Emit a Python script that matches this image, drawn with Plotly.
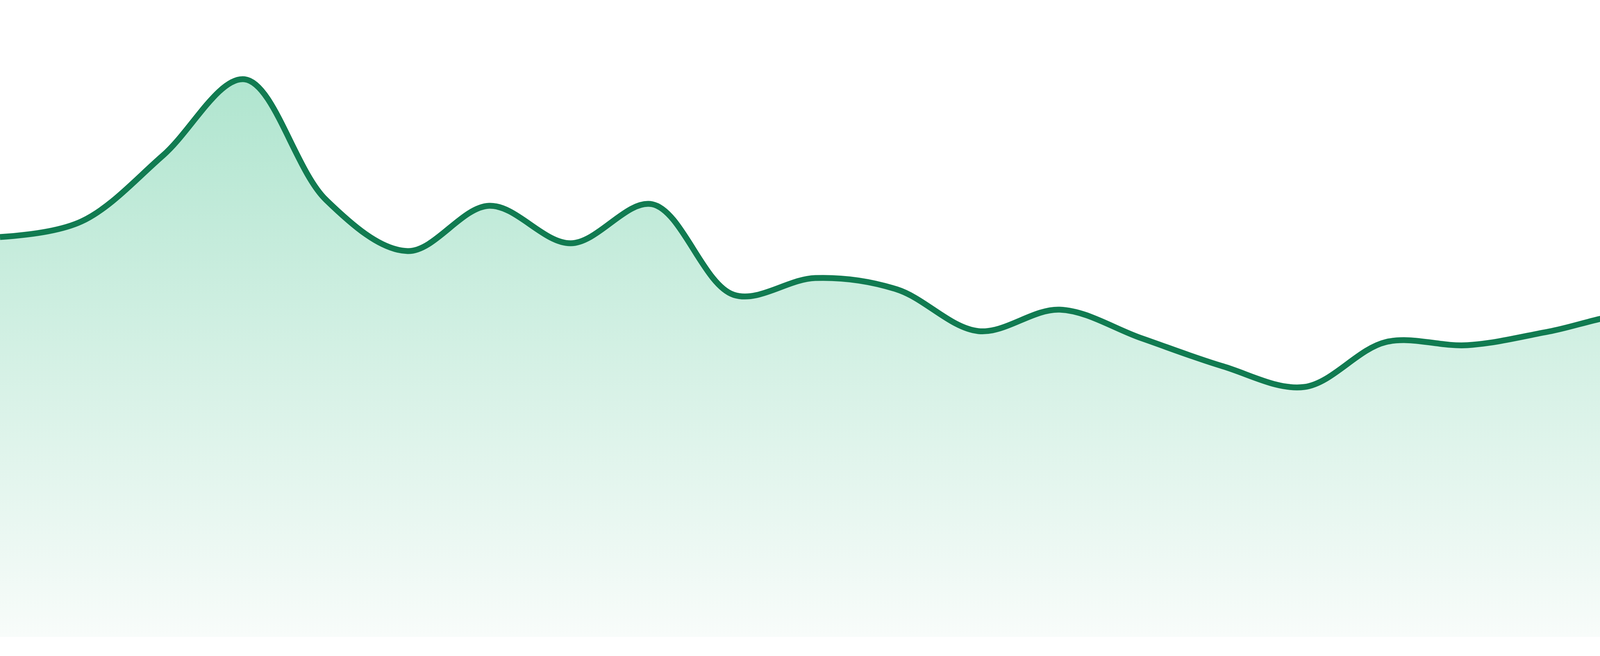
import plotly.graph_objects as go

# 24 evenly spaced samples
steps = list(range(24))
values = [102.4, 106.4, 123.3, 142.8, 111.9, 98.8, 110.4, 100.8,
          110.8, 87.6, 91.9, 89.0, 78.3, 83.8, 76.5, 69.3,
          64.0, 75.5, 74.7, 78.2, 82.5, 79.1, 92.2, 90.5]

line_color = '#117b51'
fill_top = '#b0e5cf'
fill_bottom = '#f8fcfa'

fig = go.Figure()
fig.add_trace(go.Scatter(
    x=steps,
    y=values,
    mode='lines',
    line=dict(color=line_color, width=15, shape='spline', smoothing=1),
    fill='tozeroy',
    fillgradient=dict(type='vertical',
                      colorscale=[[0, fill_bottom], [1, fill_top]],
                      start=0, stop=max(values)),
    hoverinfo='skip',
    showlegend=False,
))

fig.update_layout(
    width=4800, height=1680,
    margin=dict(l=0, r=0, t=0, b=49),
    paper_bgcolor='white',
    plot_bgcolor='white',
    xaxis=dict(range=[0, 23], visible=False, fixedrange=True),
    yaxis=dict(range=[0, 163.1], visible=False, fixedrange=True),
)

# drop the default body margin so the figure sits flush in the window
fig.write_html("out.html", post_script="document.body.style.margin='0';")
